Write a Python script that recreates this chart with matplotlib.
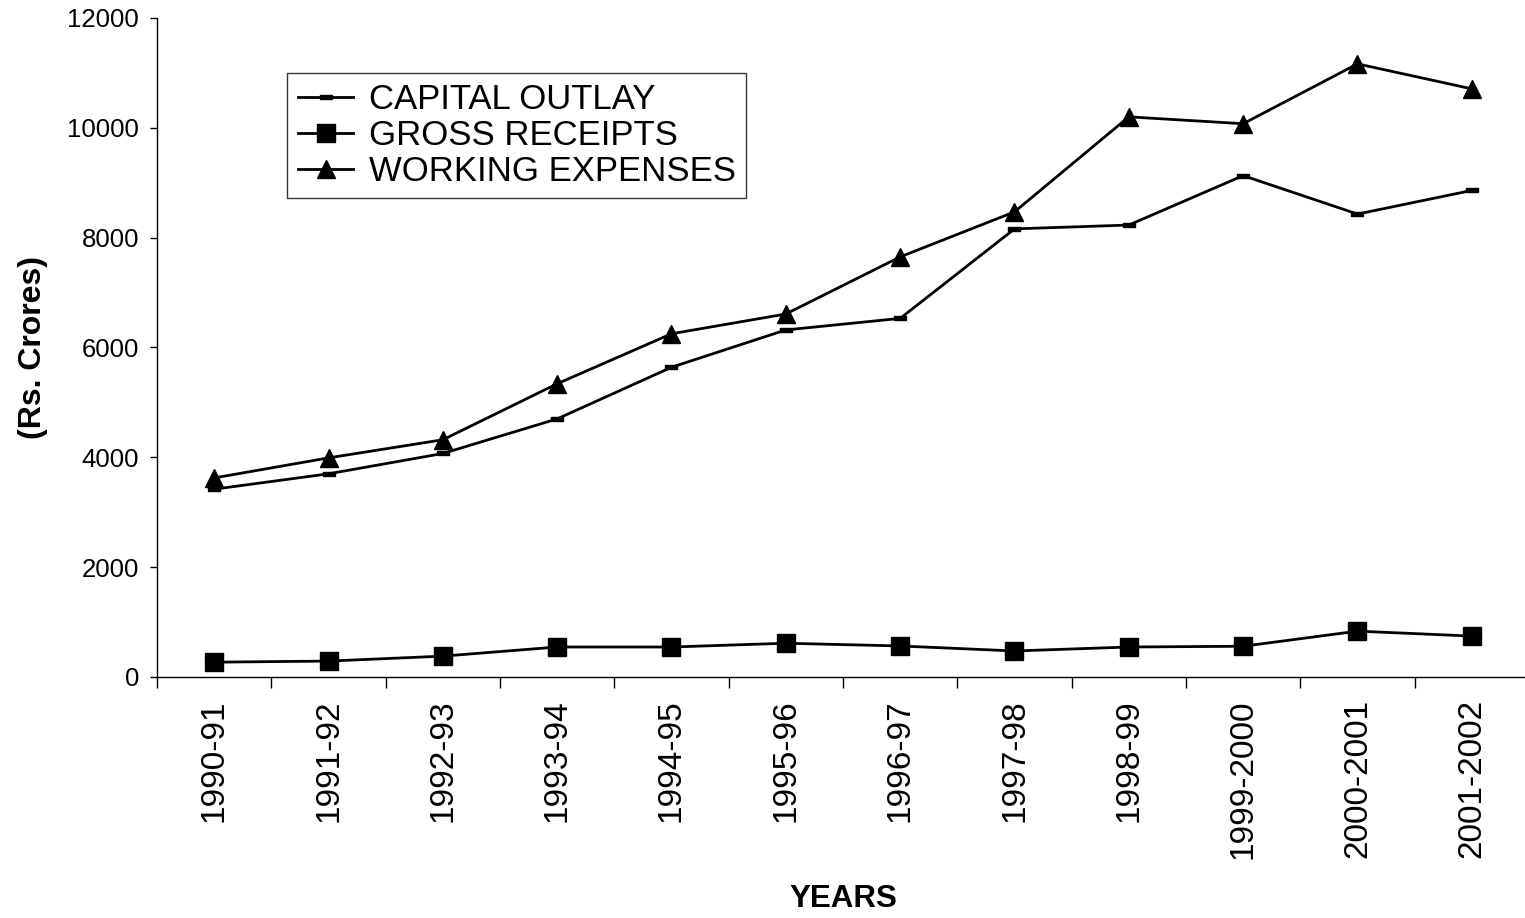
import numpy as np
import matplotlib.pyplot as plt
from matplotlib.ticker import FixedLocator

#font setup
plt.rcParams['font.family'] = ['Liberation Sans', 'DejaVu Sans']

#DATA
years = ['1990-91', '1991-92', '1992-93', '1993-94', '1994-95', '1995-96',
         '1996-97', '1997-98', '1998-99', '1999-2000', '2000-2001', '2001-2002']
capital_outlay = [3420, 3700, 4070, 4700, 5640, 6320, 6530, 8160, 8230, 9130, 8430, 8860]
gross_receipts = [270, 290, 380, 546, 546, 615, 565, 474, 546, 560, 835, 745]
working_expenses = [3625, 3990, 4320, 5340, 6250, 6610, 7650, 8470, 10200, 10075, 11165, 10710]

#PLOT
fig = plt.figure(figsize=(15.25, 9.18), dpi=100)
ax = fig.add_axes([157 / 1525, 1 - 677 / 918, 1372 / 1525, 659 / 918])

x = np.arange(len(years))

#flat rectangle marker like the excel dash
dash = [(-1, -0.33), (1, -0.33), (1, 0.33), (-1, 0.33), (-1, -0.33)]

ax.plot(x, capital_outlay, color='black', lw=2, marker=dash, ms=9,
        label='CAPITAL OUTLAY')
ax.plot(x, gross_receipts, color='black', lw=2, marker='s', ms=13.5,
        label='GROSS RECEIPTS')
ax.plot(x, working_expenses, color='black', lw=2, marker='^', ms=13.5,
        label='WORKING EXPENSES')

ax.set_xlim(-0.5, len(years) - 0.5)
ax.set_ylim(0, 12000)
ax.set_yticks(range(0, 12001, 2000))

#ticks between categories, labels on the categories
ax.xaxis.set_major_locator(FixedLocator(np.arange(-0.5, len(years), 1.0)))
ax.set_xticklabels([])
ax.xaxis.set_minor_locator(FixedLocator(x))
ax.set_xticklabels(years, minor=True, rotation=90, fontsize=24, va='top')
ax.tick_params(axis='x', which='major', length=8, width=1, direction='out')
ax.tick_params(axis='x', which='minor', length=0, pad=16)
ax.tick_params(axis='y', length=5, width=1, direction='out', labelsize=18.5, pad=8)

for side in ['top', 'right']:
    ax.spines[side].set_visible(False)
for side in ['left', 'bottom']:
    ax.spines[side].set_linewidth(1)

ax.set_xlabel('YEARS', fontsize=22.5, fontweight='bold', labelpad=18)
ax.set_ylabel('(Rs. Crores)', fontsize=23, fontweight='bold', labelpad=14)

leg = ax.legend(loc='upper left', bbox_to_anchor=(0.095, 0.9165), fontsize=25,
                frameon=True, fancybox=False, edgecolor='black', borderaxespad=0,
                handlelength=1.6, handletextpad=0.45, labelspacing=0.08,
                borderpad=0.3)
leg.get_frame().set_linewidth(1)

plt.savefig('out.png', dpi=100)
